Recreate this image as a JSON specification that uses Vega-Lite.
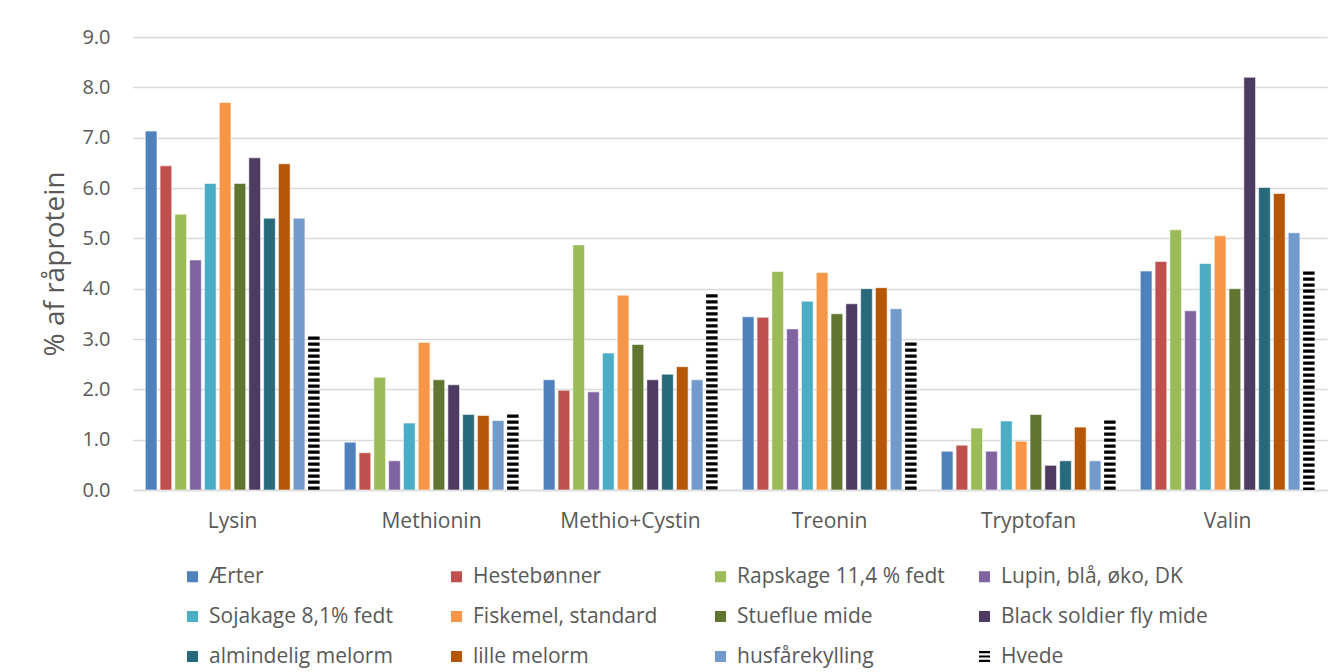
{
  "$schema": "https://vega.github.io/schema/vega-lite/v6.json",
  "autosize": "none",
  "width": 1194,
  "height": 453,
  "padding": {"left": 133, "top": 37, "right": 11, "bottom": 182},
  "background": "white",
  "config": {
    "font": "Open Sans",
    "view": {"stroke": null},
    "axis": {"labelColor": "#595959", "titleColor": "#595959"},
    "legend": {
      "title": null,
      "orient": "none",
      "legendX": 49,
      "legendY": 529,
      "direction": "horizontal",
      "columns": 4,
      "gridAlign": "all",
      "columnPadding": 29,
      "rowPadding": 18,
      "symbolSize": 121,
      "symbolOpacity": 1,
      "symbolStrokeWidth": 0,
      "labelFontSize": 21,
      "labelColor": "#595959",
      "labelOffset": 6,
      "labelLimit": 300
    }
  },
  "data": {
    "values": [
      {"aminosyre": "Lysin", "foder": "Ærter", "vaerdi": 7.13},
      {"aminosyre": "Lysin", "foder": "Hestebønner", "vaerdi": 6.44},
      {"aminosyre": "Lysin", "foder": "Rapskage 11,4 % fedt", "vaerdi": 5.48},
      {"aminosyre": "Lysin", "foder": "Lupin, blå, øko, DK", "vaerdi": 4.57},
      {"aminosyre": "Lysin", "foder": "Sojakage 8,1% fedt", "vaerdi": 6.09},
      {"aminosyre": "Lysin", "foder": "Fiskemel, standard", "vaerdi": 7.70},
      {"aminosyre": "Lysin", "foder": "Stueflue mide", "vaerdi": 6.09},
      {"aminosyre": "Lysin", "foder": "Black soldier fly mide", "vaerdi": 6.60},
      {"aminosyre": "Lysin", "foder": "almindelig melorm", "vaerdi": 5.40},
      {"aminosyre": "Lysin", "foder": "lille melorm", "vaerdi": 6.48},
      {"aminosyre": "Lysin", "foder": "husfårekylling", "vaerdi": 5.40},
      {"aminosyre": "Lysin", "foder": "Hvede", "vaerdi": 3.05},
      {"aminosyre": "Methionin", "foder": "Ærter", "vaerdi": 0.95},
      {"aminosyre": "Methionin", "foder": "Hestebønner", "vaerdi": 0.74},
      {"aminosyre": "Methionin", "foder": "Rapskage 11,4 % fedt", "vaerdi": 2.24},
      {"aminosyre": "Methionin", "foder": "Lupin, blå, øko, DK", "vaerdi": 0.58},
      {"aminosyre": "Methionin", "foder": "Sojakage 8,1% fedt", "vaerdi": 1.33},
      {"aminosyre": "Methionin", "foder": "Fiskemel, standard", "vaerdi": 2.93},
      {"aminosyre": "Methionin", "foder": "Stueflue mide", "vaerdi": 2.19},
      {"aminosyre": "Methionin", "foder": "Black soldier fly mide", "vaerdi": 2.09},
      {"aminosyre": "Methionin", "foder": "almindelig melorm", "vaerdi": 1.50},
      {"aminosyre": "Methionin", "foder": "lille melorm", "vaerdi": 1.48},
      {"aminosyre": "Methionin", "foder": "husfårekylling", "vaerdi": 1.38},
      {"aminosyre": "Methionin", "foder": "Hvede", "vaerdi": 1.50},
      {"aminosyre": "Methio+Cystin", "foder": "Ærter", "vaerdi": 2.19},
      {"aminosyre": "Methio+Cystin", "foder": "Hestebønner", "vaerdi": 1.98},
      {"aminosyre": "Methio+Cystin", "foder": "Rapskage 11,4 % fedt", "vaerdi": 4.87},
      {"aminosyre": "Methio+Cystin", "foder": "Lupin, blå, øko, DK", "vaerdi": 1.95},
      {"aminosyre": "Methio+Cystin", "foder": "Sojakage 8,1% fedt", "vaerdi": 2.72},
      {"aminosyre": "Methio+Cystin", "foder": "Fiskemel, standard", "vaerdi": 3.87},
      {"aminosyre": "Methio+Cystin", "foder": "Stueflue mide", "vaerdi": 2.89},
      {"aminosyre": "Methio+Cystin", "foder": "Black soldier fly mide", "vaerdi": 2.19},
      {"aminosyre": "Methio+Cystin", "foder": "almindelig melorm", "vaerdi": 2.30},
      {"aminosyre": "Methio+Cystin", "foder": "lille melorm", "vaerdi": 2.45},
      {"aminosyre": "Methio+Cystin", "foder": "husfårekylling", "vaerdi": 2.19},
      {"aminosyre": "Methio+Cystin", "foder": "Hvede", "vaerdi": 3.89},
      {"aminosyre": "Treonin", "foder": "Ærter", "vaerdi": 3.44},
      {"aminosyre": "Treonin", "foder": "Hestebønner", "vaerdi": 3.43},
      {"aminosyre": "Treonin", "foder": "Rapskage 11,4 % fedt", "vaerdi": 4.34},
      {"aminosyre": "Treonin", "foder": "Lupin, blå, øko, DK", "vaerdi": 3.20},
      {"aminosyre": "Treonin", "foder": "Sojakage 8,1% fedt", "vaerdi": 3.75},
      {"aminosyre": "Treonin", "foder": "Fiskemel, standard", "vaerdi": 4.32},
      {"aminosyre": "Treonin", "foder": "Stueflue mide", "vaerdi": 3.50},
      {"aminosyre": "Treonin", "foder": "Black soldier fly mide", "vaerdi": 3.70},
      {"aminosyre": "Treonin", "foder": "almindelig melorm", "vaerdi": 4.00},
      {"aminosyre": "Treonin", "foder": "lille melorm", "vaerdi": 4.02},
      {"aminosyre": "Treonin", "foder": "husfårekylling", "vaerdi": 3.60},
      {"aminosyre": "Treonin", "foder": "Hvede", "vaerdi": 2.93},
      {"aminosyre": "Tryptofan", "foder": "Ærter", "vaerdi": 0.77},
      {"aminosyre": "Tryptofan", "foder": "Hestebønner", "vaerdi": 0.89},
      {"aminosyre": "Tryptofan", "foder": "Rapskage 11,4 % fedt", "vaerdi": 1.23},
      {"aminosyre": "Tryptofan", "foder": "Lupin, blå, øko, DK", "vaerdi": 0.77},
      {"aminosyre": "Tryptofan", "foder": "Sojakage 8,1% fedt", "vaerdi": 1.37},
      {"aminosyre": "Tryptofan", "foder": "Fiskemel, standard", "vaerdi": 0.97},
      {"aminosyre": "Tryptofan", "foder": "Stueflue mide", "vaerdi": 1.50},
      {"aminosyre": "Tryptofan", "foder": "Black soldier fly mide", "vaerdi": 0.49},
      {"aminosyre": "Tryptofan", "foder": "almindelig melorm", "vaerdi": 0.58},
      {"aminosyre": "Tryptofan", "foder": "lille melorm", "vaerdi": 1.25},
      {"aminosyre": "Tryptofan", "foder": "husfårekylling", "vaerdi": 0.58},
      {"aminosyre": "Tryptofan", "foder": "Hvede", "vaerdi": 1.38},
      {"aminosyre": "Valin", "foder": "Ærter", "vaerdi": 4.35},
      {"aminosyre": "Valin", "foder": "Hestebønner", "vaerdi": 4.54},
      {"aminosyre": "Valin", "foder": "Rapskage 11,4 % fedt", "vaerdi": 5.17},
      {"aminosyre": "Valin", "foder": "Lupin, blå, øko, DK", "vaerdi": 3.56},
      {"aminosyre": "Valin", "foder": "Sojakage 8,1% fedt", "vaerdi": 4.50},
      {"aminosyre": "Valin", "foder": "Fiskemel, standard", "vaerdi": 5.05},
      {"aminosyre": "Valin", "foder": "Stueflue mide", "vaerdi": 4.00},
      {"aminosyre": "Valin", "foder": "Black soldier fly mide", "vaerdi": 8.20},
      {"aminosyre": "Valin", "foder": "almindelig melorm", "vaerdi": 6.01},
      {"aminosyre": "Valin", "foder": "lille melorm", "vaerdi": 5.89},
      {"aminosyre": "Valin", "foder": "husfårekylling", "vaerdi": 5.11},
      {"aminosyre": "Valin", "foder": "Hvede", "vaerdi": 4.34}
    ]
  },
  "encoding": {
    "x": {
      "field": "aminosyre",
      "type": "nominal",
      "sort": null,
      "scale": {"paddingInner": 0.116, "paddingOuter": 0.058},
      "axis": {
        "title": null,
        "labelAngle": 0,
        "labelFontSize": 21,
        "labelPadding": 20,
        "ticks": false,
        "domainColor": "#D9D9D9",
        "domainWidth": 1.5,
        "grid": false
      }
    },
    "xOffset": {
      "field": "foder",
      "type": "nominal",
      "scale": {
        "domain": ["Ærter", "Hestebønner", "Rapskage 11,4 % fedt", "Lupin, blå, øko, DK", "Sojakage 8,1% fedt", "Fiskemel, standard", "Stueflue mide", "Black soldier fly mide", "almindelig melorm", "lille melorm", "husfårekylling", "Hvede"],
        "paddingInner": 0.21,
        "paddingOuter": 0.05
      }
    },
    "y": {
      "field": "vaerdi",
      "type": "quantitative",
      "scale": {"domain": [0, 9], "nice": false},
      "axis": {
        "title": "% af råprotein",
        "titleFontSize": 28,
        "titleFontWeight": "normal",
        "titlePadding": 12,
        "values": [0, 1, 2, 3, 4, 5, 6, 7, 8, 9],
        "format": ".1f",
        "labelFontSize": 20,
        "labelPadding": 23,
        "ticks": false,
        "domain": false,
        "gridColor": "#D9D9D9",
        "gridWidth": 1.5
      }
    }
  },
  "layer": [
    {
      "transform": [{"filter": "datum.foder !== 'Hvede'"}],
      "mark": {"type": "bar", "stroke": "white", "strokeWidth": 1, "strokeOpacity": 0.55},
      "encoding": {
        "color": {
          "field": "foder",
          "type": "nominal",
          "scale": {
            "domain": ["Ærter", "Hestebønner", "Rapskage 11,4 % fedt", "Lupin, blå, øko, DK", "Sojakage 8,1% fedt", "Fiskemel, standard", "Stueflue mide", "Black soldier fly mide", "almindelig melorm", "lille melorm", "husfårekylling", "Hvede"],
            "range": ["#4F81BD", "#C0504D", "#9BBB59", "#8064A2", "#4BACC6", "#F79646", "#5F7530", "#4D3B62", "#276A7C", "#B65708", "#729ACA", "#000000"]
          }
        }
      }
    },
    {
      "transform": [{"filter": "datum.foder === 'Hvede'"}],
      "mark": {"type": "rule", "color": "#000000", "strokeWidth": 11.5, "strokeDash": [3.2, 2.8], "strokeCap": "butt"},
      "encoding": {
        "y2": {"datum": 0}
      }
    },
    {
      "mark": {"type": "point", "filled": true, "opacity": 0, "strokeWidth": 0},
      "encoding": {
        "color": {"field": "foder", "type": "nominal"},
        "shape": {
          "field": "foder",
          "type": "nominal",
          "scale": {
            "domain": ["Ærter", "Hestebønner", "Rapskage 11,4 % fedt", "Lupin, blå, øko, DK", "Sojakage 8,1% fedt", "Fiskemel, standard", "Stueflue mide", "Black soldier fly mide", "almindelig melorm", "lille melorm", "husfårekylling", "Hvede"],
            "range": ["square", "square", "square", "square", "square", "square", "square", "square", "square", "square", "square", "M-1,-1H1V-0.6H-1ZM-1,-0.2H1V0.2H-1ZM-1,0.6H1V1H-1Z"]
          }
        }
      }
    }
  ]
}
